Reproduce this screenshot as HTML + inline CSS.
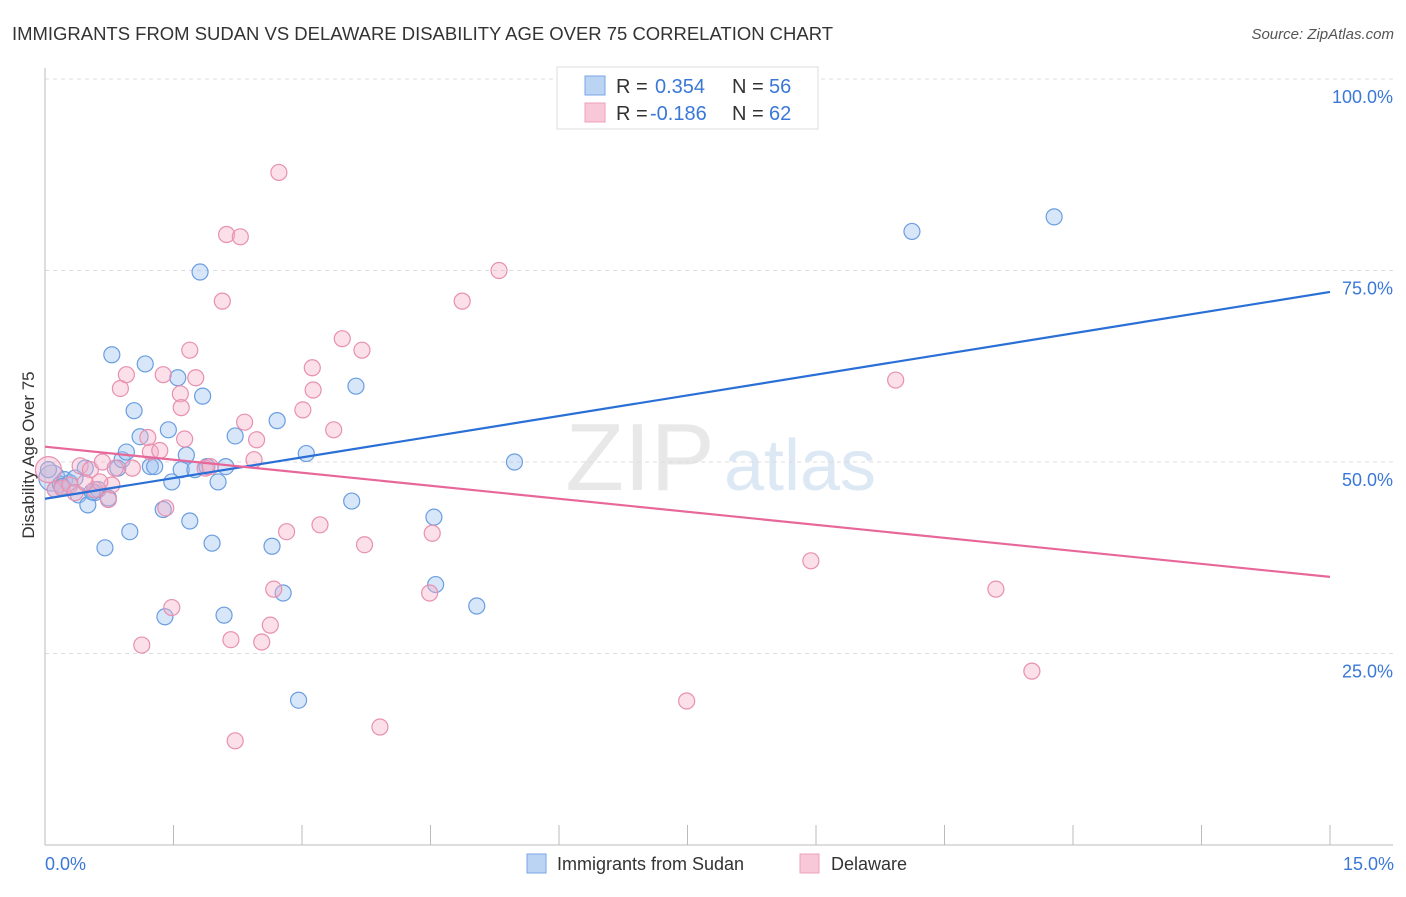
<!DOCTYPE html>
<html><head><meta charset="utf-8">
<style>
body{margin:0;background:#fff;font-family:"Liberation Sans",sans-serif;}
svg text{font-family:"Liberation Sans",sans-serif;}
</style></head>
<body>
<svg id="chart" width="1406" height="892">
<text x="12" y="40" font-size="18" fill="#333" textLength="821" lengthAdjust="spacingAndGlyphs">IMMIGRANTS FROM SUDAN VS DELAWARE DISABILITY AGE OVER 75 CORRELATION CHART</text>
<text x="1394" y="39" font-size="15" fill="#555" text-anchor="end" font-style="italic">Source: ZipAtlas.com</text>
<text x="640" y="490" font-size="96" fill="#e8e8e8" font-family="Liberation Serif" text-anchor="middle">ZIP</text>
<text x="800" y="490" font-size="72" fill="#dde8f5" text-anchor="middle">atlas</text>
<g id="grid"></g><g id="axes"></g><g id="pts"></g><g id="lines"></g>
<text transform="translate(34,455) rotate(-90)" font-size="17" fill="#333" text-anchor="middle">Disability Age Over 75</text>
<text x="45" y="870" font-size="18" fill="#3a78d8">0.0%</text>
<text x="1394" y="870" font-size="18" fill="#3a78d8" text-anchor="end">15.0%</text>
<g>
<rect x="557" y="67" width="261" height="62" fill="#fff" stroke="#ddd"/>
<rect x="585" y="76" width="20" height="19" fill="#bcd4f4" stroke="#7aa6e6"/>
<rect x="585" y="103" width="20" height="19" fill="#f8c8d8" stroke="#eca0bc"/>
<text x="616" y="93" font-size="20" fill="#333">R = </text>
<text x="655" y="93" font-size="20" fill="#3a78d8">0.354</text>
<text x="732" y="93" font-size="20" fill="#333">N = </text>
<text x="769" y="93" font-size="20" fill="#3a78d8">56</text>
<text x="616" y="120" font-size="20" fill="#333">R = </text>
<text x="650" y="120" font-size="20" fill="#3a78d8">-0.186</text>
<text x="732" y="120" font-size="20" fill="#333">N = </text>
<text x="769" y="120" font-size="20" fill="#3a78d8">62</text>
</g>
<g>
<rect x="527" y="854" width="19" height="19" fill="#bcd4f4" stroke="#7aa6e6"/>
<text x="557" y="870" font-size="18" fill="#333">Immigrants from Sudan</text>
<rect x="800" y="854" width="19" height="19" fill="#f8c8d8" stroke="#eca0bc"/>
<text x="831" y="870" font-size="18" fill="#333">Delaware</text>
</g>
</svg>
<script>
const yTicks=[25,50,75,100];
const yTickLabels=["25.0%","50.0%","75.0%","100.0%"];
const xTicks=[0,1.5,3,4.5,6,7.5,9,10.5,12,13.5,15];
const blueX=[.08,.12,.18,.23,.29,.39,.47,.50,.58,.62,.70,.74,.78,.85,.90,.95,.99,1.04,1.11,1.17,1.23,1.28,1.38,1.40,1.44,1.48,1.55,1.59,1.65,1.69,1.75,1.81,1.84,1.89,1.95,2.02,2.09,2.11,2.22,2.65,2.71,2.78,2.96,3.05,3.58,3.63,4.54,4.56,5.04,5.48,10.12,11.78,.04,.35,.55,.20];
const blueY=[47.9,46.4,47.1,47.7,47.3,45.7,49.2,44.4,46.0,46.4,38.8,45.3,64.0,49.2,50.3,51.3,40.9,56.7,53.3,62.8,49.4,49.4,43.8,29.8,54.2,47.4,61.0,49.0,50.9,42.3,49.0,74.8,58.6,49.4,39.4,47.4,30.0,49.4,53.4,39.0,55.4,32.9,18.9,51.1,44.9,59.9,42.8,34.0,31.2,50.0,80.1,82.0,49.0,47.9,46.1,46.8];
const pinkX=[.04,.12,.20,.29,.41,.53,.58,.67,.74,.82,.88,.95,1.02,1.13,1.20,1.23,1.38,1.41,1.48,1.58,1.59,1.63,1.69,1.76,1.87,1.93,2.07,2.12,2.17,2.22,2.28,2.33,2.44,2.47,2.53,2.63,2.67,2.73,2.82,3.01,3.12,3.13,3.21,3.37,3.47,3.70,3.73,3.91,4.49,4.52,4.87,5.30,7.49,8.94,9.93,11.10,11.52,.35,.47,.78,1.34,.64];
const pinkY=[49.0,46.4,46.6,47.0,49.5,49.0,46.4,50.0,45.1,49.2,59.6,61.4,49.2,26.1,53.2,51.3,61.4,44.0,31.0,58.9,57.1,53.0,64.6,61.0,49.2,49.4,71.0,79.7,26.8,13.6,79.4,55.2,50.3,52.9,26.5,28.7,33.4,87.8,40.9,56.8,62.3,59.4,41.8,54.2,66.1,64.6,39.2,15.4,32.9,40.7,71.0,75.0,18.8,37.1,60.7,33.4,22.7,46.0,47.3,47.0,51.5,47.4];
const blueTrend=[45.2,72.2];
const pinkTrend=[52.0,35.0];
const NS="http://www.w3.org/2000/svg";
const X0=45,X1=1330,Y0=845,Y100=79;
function sx(v){return X0+(X1-X0)*v/15;}
function sy(v){return Y0-(Y0-Y100)*v/100;}
function mk(tag,attrs,parent){const e=document.createElementNS(NS,tag);for(const k in attrs)e.setAttribute(k,attrs[k]);parent.appendChild(e);return e;}
const grid=document.getElementById('grid'),axes=document.getElementById('axes'),pts=document.getElementById('pts'),lines=document.getElementById('lines');
yTicks.forEach((t,i)=>{
 const l=mk('line',{x1:X0,x2:1393,y1:sy(t),y2:sy(t),stroke:'#ddd','stroke-dasharray':'4,4'},grid);
 
 
 const tx=mk('text',{x:1393,y:sy(t)+24,'font-size':18,fill:'#3a78d8','text-anchor':'end'},grid);
 tx.textContent=yTickLabels[i];
 
 
});
const ya=mk('line',{x1:X0,x2:X0,y1:68,y2:Y0,stroke:'#bbb'},axes);


const xa=mk('line',{x1:X0,x2:1393,y1:Y0,y2:Y0,stroke:'#bbb'},axes);


xTicks.forEach(t=>{
 const l=mk('line',{x1:sx(t),x2:sx(t),y1:Y0,y2:Y0-20,stroke:'#bbb'},axes);
 
 
});
function drawPts(xs,ys,fill,stroke,name){
 xs.forEach((x,i)=>{
  const big=(x<0.1&&i<2);
  const c=mk('circle',{cx:sx(x),cy:sy(ys[i]),r:big?13:8,fill:fill,'fill-opacity':0.4,stroke:stroke,'stroke-width':1.2},pts);
  
  
 });
}
drawPts(blueX,blueY,'#9cc0ee','#6a9ee0','sudan-point');
drawPts(pinkX,pinkY,'#f4b0c8','#e890b0','delaware-point');
const bl=mk('line',{x1:sx(0),y1:sy(blueTrend[0]),x2:sx(15),y2:sy(blueTrend[1]),stroke:'#2a6fd6','stroke-width':2.2},lines);


const pl=mk('line',{x1:sx(0),y1:sy(pinkTrend[0]),x2:sx(15),y2:sy(pinkTrend[1]),stroke:'#e8679a','stroke-width':2.2},lines);


</script>
</body></html>
